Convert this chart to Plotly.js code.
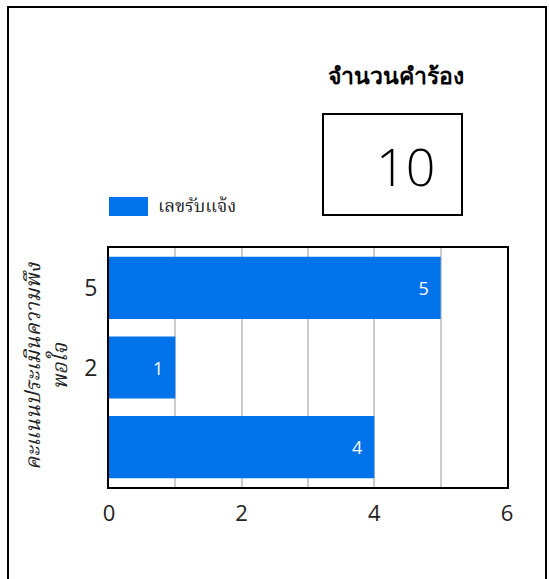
<!DOCTYPE html>
<html>
<head>
<meta charset="utf-8">
<script src="https://cdn.plot.ly/plotly-3.0.1.min.js"></script>
<style>
html,body{margin:0;padding:0;background:#fff;}
#chart{width:549px;height:579px;}
#frame{position:absolute;left:7px;top:6px;width:536px;height:600px;border:2px solid #000;pointer-events:none;}
</style>
</head>
<body>
<div id="chart"></div>
<div id="frame"></div>
<script>
// Data
var categories = ["5", "2", " "];
var values = [5, 1, 4];
var seriesName = "เลขรับแจ้ง";
var xTickVals = [0, 2, 4, 6];
var yTitle = "คะแนนประเมินความพึง<br>พอใจ";
var kpiTitle = "จำนวนคำร้อง";
var kpiValue = 10;

var W = 549, H = 579;
var M = {l: 109, r: 42, t: 248, b: 92};
var pw = W - M.l - M.r, ph = H - M.t - M.b;
function px(x){ return (x - M.l) / pw; }
function py(y){ return (H - M.b - y) / ph; }

var blue = "#0073ea";
var serifThai = "Noto Serif Thai, Noto Sans Thai Looped, Loma, Garuda, Norasi, Tlwg Typo, Liberation Serif, serif";

var trace = {
  type: "bar",
  orientation: "h",
  name: seriesName,
  y: categories,
  x: values,
  text: values.map(String),
  texttemplate: "%{text}\u2002",
  textposition: "inside",
  insidetextanchor: "end",
  textfont: {color: "#ffffff", size: 18, family: "Open Sans, Noto Sans, sans-serif"},
  marker: {color: blue},
  showlegend: false,
  hoverinfo: "x+y"
};

var layout = {
  width: W, height: H,
  margin: M,
  paper_bgcolor: "#fff",
  plot_bgcolor: "#fff",
  bargap: 0.22,
  font: {family: "Open Sans, Noto Sans, sans-serif", color: "#222"},
  xaxis: {
    range: [0, 6],
    tickvals: xTickVals,
    ticktext: xTickVals.map(String),
    tickfont: {size: 22, color: "#222"},
    showgrid: true,
    gridcolor: "#cccccc",
    gridwidth: 1.5,
    minor: {dtick: 1, tick0: 0, showgrid: true, gridcolor: "#cccccc", gridwidth: 1.5},
    showline: true, linecolor: "#000", linewidth: 2, mirror: true,
    zeroline: false,
    ticks: "",
    ticklabelstandoff: 6,
    fixedrange: true
  },
  yaxis: {
    type: "category",
    categoryorder: "array",
    categoryarray: categories.slice().reverse(),
    tickfont: {size: 23, color: "#222"},
    showline: true, linecolor: "#000", linewidth: 2, mirror: true,
    showgrid: false,
    zeroline: false,
    ticks: "",
    ticklabelstandoff: 5,
    fixedrange: true
  },
  shapes: [
    {type: "rect", xref: "paper", yref: "paper",
     x0: px(323), x1: px(462), y0: py(215), y1: py(114),
     line: {color: "#000", width: 2}, fillcolor: "rgba(0,0,0,0)"},
    {type: "rect", xref: "paper", yref: "paper",
     x0: px(109), x1: px(148), y0: py(216), y1: py(197),
     line: {width: 0}, fillcolor: blue}
  ],
  annotations: [
    {xref: "paper", yref: "paper", x: px(396), y: py(75), xanchor: "center", yanchor: "middle",
     text: "<b>" + kpiTitle + "</b>", showarrow: false,
     font: {size: 23, color: "#000", family: "Noto Sans, sans-serif"}},
    {xref: "paper", yref: "paper", x: px(405), y: py(165), xanchor: "center", yanchor: "middle",
     text: String(kpiValue), showarrow: false,
     font: {size: 52, color: "#000", family: "Open Sans, Noto Sans, sans-serif", weight: 300}},
    {xref: "paper", yref: "paper", x: px(156), y: py(207), xanchor: "left", yanchor: "middle",
     text: seriesName, showarrow: false,
     font: {size: 18, color: "#222", family: serifThai}},
    {xref: "paper", yref: "paper", x: px(48), y: py(366), xanchor: "center", yanchor: "middle",
     text: "<i>" + yTitle + "</i>", textangle: -90, showarrow: false,
     font: {size: 21, color: "#222", family: serifThai}}
  ]
};

Plotly.newPlot("chart", [trace], layout, {displayModeBar: false});
</script>
</body>
</html>
